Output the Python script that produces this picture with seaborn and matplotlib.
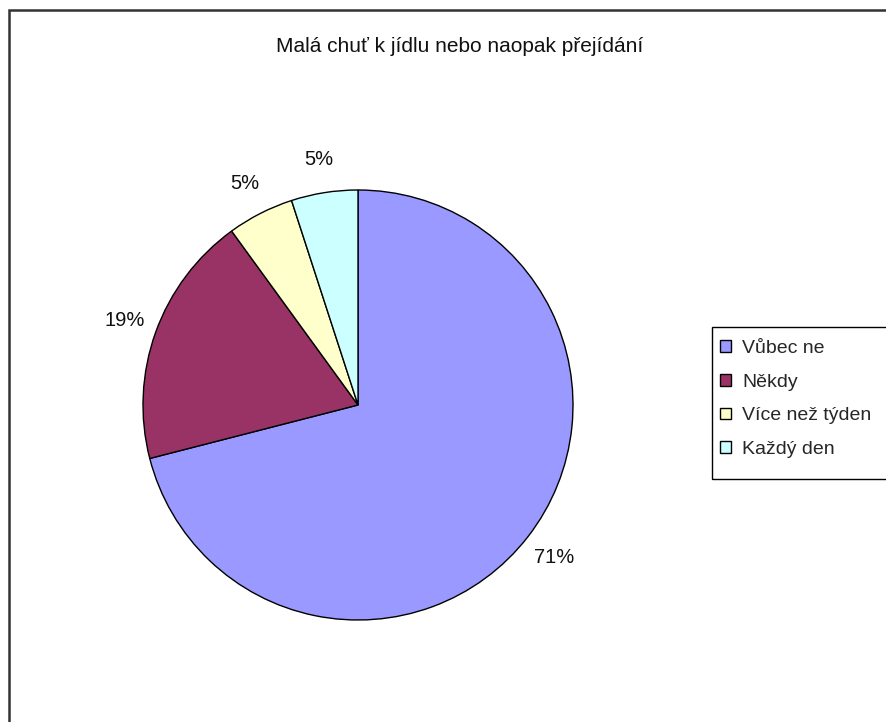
import matplotlib
matplotlib.use("Agg")
import matplotlib.pyplot as plt
from matplotlib.patches import Rectangle
import seaborn as sns

sns.set_theme(style="white")
plt.rcParams['font.family'] = ['Liberation Sans', 'DejaVu Sans']

title = "Malá chuť k jídlu nebo naopak přejídání"
categories = ["Vůbec ne", "Někdy", "Více než týden", "Každý den"]
shares = [71, 19, 5, 5]
colors = ["#9999FF", "#993366", "#FFFFCC", "#CCFFFF"]

W, H = 887, 722
fig = plt.figure(figsize=(W / 100, H / 100), dpi=100)
fig.patch.set_facecolor("white")


def px_box(x0, y0, x1, y1, **kw):
    """Rectangle given in pixel coordinates measured from the top-left."""
    return Rectangle((x0 / W, 1 - y1 / H), (x1 - x0) / W, (y1 - y0) / H,
                     transform=fig.transFigure, fill=False, **kw)


# chart-area frame (right and bottom edges fall outside the canvas)
fig.add_artist(px_box(9, 9.5, W + 50, H + 50, edgecolor="#333333", linewidth=1.8))

cx, cy, r = 358, 405, 215
ax = fig.add_axes([(cx - r) / W, (H - cy - r) / H, 2 * r / W, 2 * r / H])
wedges, texts = ax.pie(
    shares, colors=colors, startangle=90, counterclock=False,
    labels=[f"{v}%" for v in shares], labeldistance=1.155,
    wedgeprops=dict(edgecolor="black", linewidth=1.0),
    textprops=dict(fontsize=14.5, color="#111111"),
)
for t in texts:
    t.set_horizontalalignment("center")
    t.set_verticalalignment("center")
ax.set_xlim(-1, 1)
ax.set_ylim(-1, 1)
ax.set_aspect("auto")
ax.axis("off")

fig.text(460 / W, 1 - 46 / H, title, ha="center", va="center",
         fontsize=15, color="#111111")

# legend frame runs off the right edge of the canvas
fig.add_artist(px_box(712, 327, W + 20, 479, edgecolor="black", linewidth=1.0))
leg = fig.legend(wedges, categories, loc="upper left",
                 bbox_to_anchor=(716 / W, 1 - 336 / H),
                 frameon=False, fontsize=14,
                 handlelength=0.55, handleheight=0.55, handletextpad=0.6,
                 labelspacing=0.86, borderpad=0.2, borderaxespad=0)
for h in leg.legend_handles:
    h.set_edgecolor("black")
    h.set_linewidth(1.0)

fig.savefig("out.png", dpi=100, facecolor="white")
